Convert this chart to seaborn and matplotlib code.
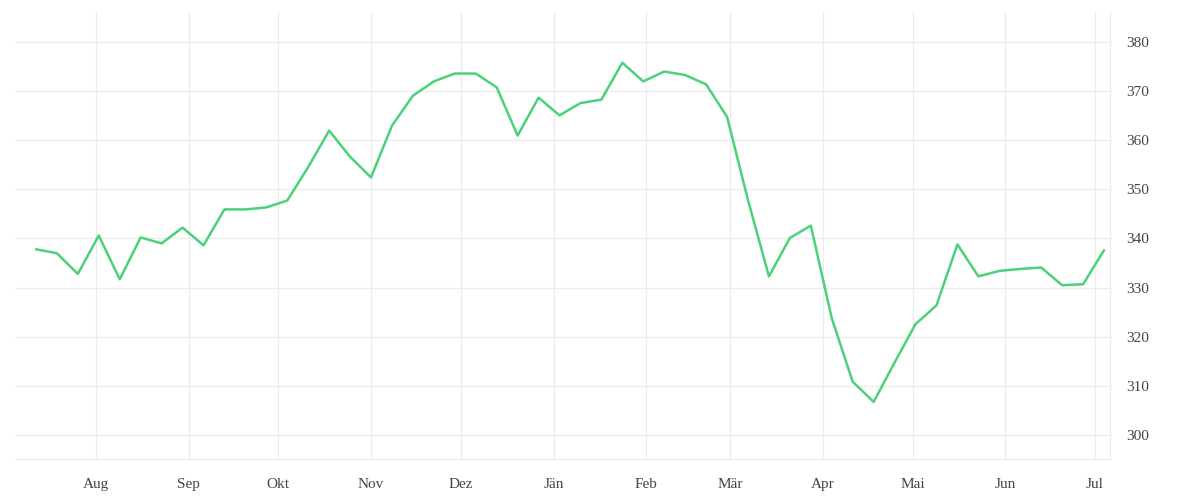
import pandas as pd
import seaborn as sns
import matplotlib.pyplot as plt

# weekly values
start_date = "2021-07-12"
values = [337.8, 337.0, 332.8, 340.6, 331.7, 340.2, 339.0, 342.2, 338.6, 345.9,
          345.9, 346.3, 347.7, 354.5, 361.9, 356.6, 352.4, 362.9, 369.0, 371.9,
          373.5, 373.5, 370.7, 360.9, 368.6, 365.0, 367.5, 368.2, 375.7, 371.9,
          373.9, 373.2, 371.3, 364.7, 347.8, 332.3, 340.1, 342.6, 323.8, 310.9,
          306.8, 314.8, 322.6, 326.4, 338.8, 332.3, 333.4, 333.8, 334.1, 330.5,
          330.7, 337.6]

month_ticks = ["2021-08-01", "2021-09-01", "2021-10-01", "2021-11-01", "2021-12-01",
               "2022-01-01", "2022-02-01", "2022-03-01", "2022-04-01", "2022-05-01",
               "2022-06-01", "2022-07-01"]
month_labels = ["Aug", "Sep", "Okt", "Nov", "Dez", "Jän", "Feb", "Mär", "Apr", "Mai",
                "Jun", "Jul"]
y_ticks = [300, 310, 320, 330, 340, 350, 360, 370, 380]

df = pd.DataFrame({"date": pd.date_range(start_date, periods=len(values), freq="7D"),
                   "value": values})

sns.set_theme(style="whitegrid")
plt.rcParams["font.family"] = ["Liberation Serif", "DejaVu Serif"]

fig, ax = plt.subplots(figsize=(12, 5), dpi=100)
fig.subplots_adjust(left=0.0125, right=0.925, top=0.976, bottom=0.083)

sns.lineplot(data=df, x="date", y="value", ax=ax, color="#4cd17b", linewidth=1.8)

ax.set_xlim(pd.Timestamp("2021-07-05"), pd.Timestamp("2022-07-06"))
ax.set_ylim(295.3, 386)
ax.set_xticks(pd.to_datetime(month_ticks))
ax.set_xticklabels(month_labels)
ax.set_yticks(y_ticks)
ax.yaxis.tick_right()

# light grid, only bottom and right frame lines
ax.grid(True, color="#ececec", linewidth=0.9)
for side in ["left", "top"]:
    ax.spines[side].set_visible(False)
for side in ["right", "bottom"]:
    ax.spines[side].set_color("#ececec")
    ax.spines[side].set_linewidth(0.9)

ax.tick_params(axis="both", length=0, labelsize=11, colors="#444444")
ax.tick_params(axis="x", pad=14)
ax.tick_params(axis="y", pad=12)
ax.set_xlabel("")
ax.set_ylabel("")

fig.savefig("out.png", dpi=100, facecolor="white")
